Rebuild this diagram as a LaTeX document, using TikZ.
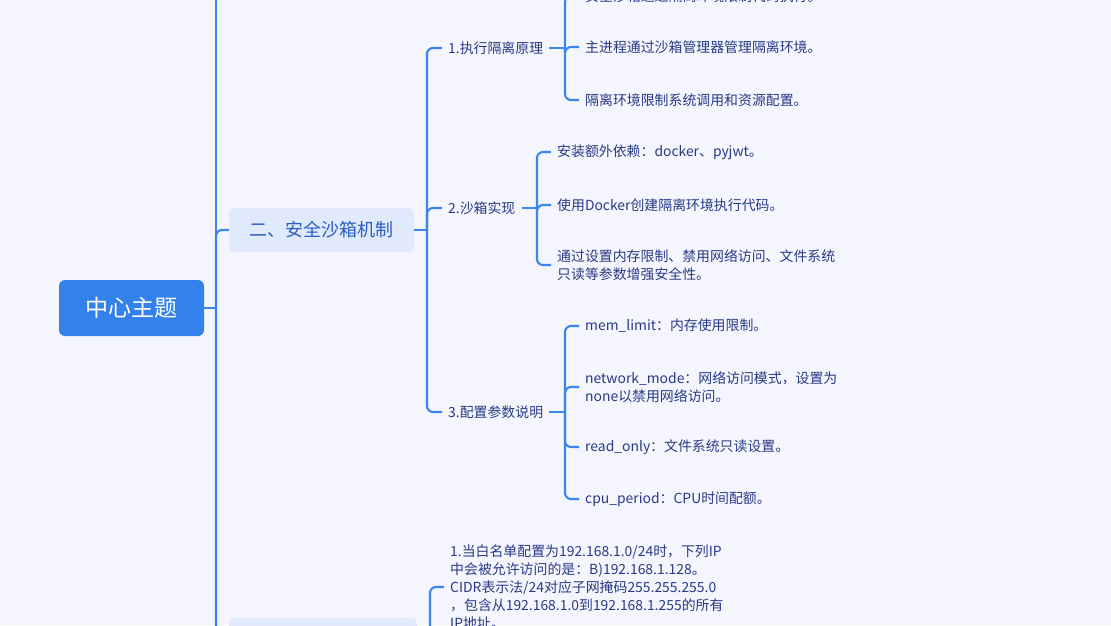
\documentclass[tikz,border=0pt]{standalone}
\usepackage{fontspec}
\setmainfont{Noto Sans CJK SC}
\begin{document}
\begin{tikzpicture}[x=1pt, y=-1pt,
    conn/.style={draw=lineblue, line width=2.1pt, rounded corners=6pt},
    leaf/.style={anchor=west, inner xsep=6pt, inner ysep=2pt, text=textblue, align=left,
                 font=\fontsize{13.9}{17.6}\selectfont},
    secbox/.style={fill=secfill, text=secblue, rounded corners=5pt, minimum height=44pt,
                   font=\fontsize{18}{22}\selectfont}]
    % Màu sắc
    \definecolor{bgcol}{RGB}{245, 246, 253}    % nền
    \definecolor{lineblue}{RGB}{58, 134, 238}  % đường nối
    \definecolor{rootblue}{RGB}{51, 129, 234}  % chủ đề trung tâm
    \definecolor{secfill}{RGB}{225, 233, 253}  % nền nhánh cấp 1
    \definecolor{secblue}{RGB}{42, 92, 196}    % chữ nhánh cấp 1
    \definecolor{textblue}{RGB}{40, 58, 134}   % chữ nhánh con

    % 0. Khung và nền
    \clip (0,0) rectangle (1111,625);
    \fill[bgcol] (0,0) rectangle (1111,625);

    % 1. Chủ đề trung tâm và thân chính
    \node[fill=rootblue, text=white, rounded corners=6pt, minimum width=145pt, minimum height=56pt,
          font=\fontsize{23}{27}\selectfont] (root) at (131.5,308) {中心主题};
    \node[secbox, minimum width=185pt] (sec2) at (321.5,230) {二、安全沙箱机制};
    \node[secbox, minimum width=188pt] (sec3) at (323,640) {};

    \draw[conn] (root.east) -- (216,308) coordinate (trunk);
    \draw[conn] (trunk) -- (216,-40);
    \draw[conn] (trunk) |- (sec2.west);
    \draw[conn] (trunk) |- (sec3.west);

    % 2. Nhánh cấp 2
    \draw[conn] (sec2.east) -- (427,230) coordinate (b2);
    \foreach \nm/\yy/\txt in {p1/48/{1.执行隔离原理}, p2/208/{2.沙箱实现}, p3/412/{3.配置参数说明}} {
        \node[leaf] (\nm) at (442,\yy) {\txt};
        \draw[conn] (b2) |- (\nm.west);
    }

    % 3. Lá của "1.执行隔离原理"
    \draw[conn] (p1.east) -- (565,48) coordinate (b21);
    \foreach \nm/\yy/\txt in {a1/-4/{安全沙箱通过隔离环境限制代码执行。},
                              a2/47/{主进程通过沙箱管理器管理隔离环境。},
                              a3/100/{隔离环境限制系统调用和资源配置。}} {
        \node[leaf] (\nm) at (579,\yy) {\txt};
        \draw[conn] (b21) |- (\nm.west);
    }

    % 4. Lá của "2.沙箱实现"
    \draw[conn] (p2.east) -- (537,208) coordinate (b22);
    \foreach \nm/\yy/\txt in {c1/152/{安装额外依赖：docker、pyjwt。},
                              c2/205/{使用Docker创建隔离环境执行代码。},
                              c3/265/{通过设置内存限制、禁用网络访问、文件系统\\只读等参数增强安全性。}} {
        \node[leaf] (\nm) at (551,\yy) {\txt};
        \draw[conn] (b22) |- (\nm.west);
    }

    % 5. Lá của "3.配置参数说明"
    \draw[conn] (p3.east) -- (565,412) coordinate (b23);
    \foreach \nm/\yy/\txt in {d1/326/{mem\_limit：内存使用限制。},
                              d2/387/{network\_mode：网络访问模式，设置为\\none以禁用网络访问。},
                              d3/447/{read\_only：文件系统只读设置。},
                              d4/499/{cpu\_period：CPU时间配额。}} {
        \node[leaf] (\nm) at (579,\yy) {\txt};
        \draw[conn] (b23) |- (\nm.west);
    }

    % 6. Nhánh cấp 1 phía dưới
    \draw[conn] (sec3.east) -- (430,640) coordinate (b3);
    \node[leaf, font=\fontsize{13.9}{18}\selectfont] (q1) at (444,587)
        {1.当白名单配置为192.168.1.0/24时，下列IP\\中会被允许访问的是：B)192.168.1.128。\\CIDR表示法/24对应子网掩码255.255.255.0\\，包含从192.168.1.0到192.168.1.255的所有\\IP地址。};
    \draw[conn] (b3) |- (q1.west);

\end{tikzpicture}
\end{document}
